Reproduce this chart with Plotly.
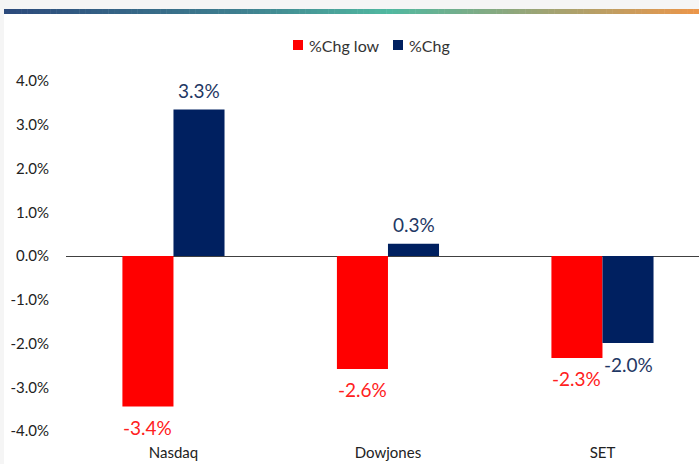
import plotly.graph_objects as go

categories = ["Nasdaq", "Dowjones", "SET"]
series_names = ["%Chg low", "%Chg"]
chg_low = [-3.44, -2.58, -2.33]
chg = [3.35, 0.28, -1.99]
low_labels = ["-3.4%", "-2.6%", "-2.3%"]
chg_labels = ["3.3%", "0.3%", "-2.0%"]
ytick_vals = [4, 3, 2, 1, 0, -1, -2, -3, -4]
ytick_text = ["4.0%", "3.0%", "2.0%", "1.0%", "0.0%", "-1.0%", "-2.0%", "-3.0%", "-4.0%"]

RED = "#ff0000"
BLUE = "#002060"
FONT = "Lato, 'Open Sans', sans-serif"

# pixel -> paper helpers (plot area: x 66..699, y 81..431)
def px(x):
    return (x - 66) / 633
def py(y):
    return (431 - y) / 350

xs = list(range(len(categories)))
fig = go.Figure()
fig.add_trace(go.Bar(x=xs, y=chg_low, name=series_names[0], marker_color=RED, marker_line_width=0, showlegend=False))
fig.add_trace(go.Bar(x=xs, y=chg, name=series_names[1], marker_color=BLUE, marker_line_width=0, showlegend=False))

off = 0.119
anns = []
for i in xs:
    for v, lab, col, dx in [(chg_low[i], low_labels[i], "#ff2020", -off), (chg[i], chg_labels[i], "#1f3864", off)]:
        anns.append(dict(x=i + dx, y=v, text=lab, showarrow=False, xref="x", yref="y",
                         yshift=19 if v >= 0 else -21, font=dict(size=19, color=col, family=FONT)))

shapes = [dict(type="rect", xref="paper", yref="paper", x0=px(-10), x1=px(710), y0=py(9), y1=py(-10),
               fillcolor="#f5f5f5", line_width=0, layer="below")]
# decorative top gradient strip
stops = [(0.0, (44, 74, 124)), (0.33, (62, 126, 143)), (0.55, (80, 184, 160)), (0.75, (150, 165, 120)), (1.0, (238, 149, 72))]
def col_at(t):
    for (t0, c0), (t1, c1) in zip(stops[:-1], stops[1:]):
        if t0 <= t <= t1:
            f = (t - t0) / (t1 - t0)
            return "rgb(%d,%d,%d)" % tuple(round(a + (b - a) * f) for a, b in zip(c0, c1))
    return "rgb(238,149,72)"
N = 120
W = 699
for k in range(N):
    xa = 4 + (W - 4) * k / N
    xb = 4 + (W - 4) * (k + 1) / N + 0.5
    shapes.append(dict(type="rect", xref="paper", yref="paper", x0=px(xa), x1=px(xb),
                       y0=py(14), y1=py(9), fillcolor=col_at(k / N), line_width=0))
shapes.append(dict(type="rect", xref="paper", yref="paper", x0=px(-5), x1=px(4),
                   y0=py(470), y1=py(0), fillcolor="#f5f5f5", line_width=0))

# custom legend
for name, col, sx in [(series_names[0], RED, 293), (series_names[1], BLUE, 393)]:
    shapes.append(dict(type="rect", xref="paper", yref="paper", x0=px(sx), x1=px(sx + 10),
                       y0=py(50), y1=py(40), fillcolor=col, line_width=0))
    anns.append(dict(x=px(sx + 14), y=py(45), xref="paper", yref="paper", text=name, showarrow=False,
                     xanchor="left", yanchor="middle", font=dict(size=16, color="#333333", family=FONT)))

fig.update_layout(
    width=699, height=464,
    margin=dict(l=66, r=0, t=81, b=33),
    paper_bgcolor="white", plot_bgcolor="white",
    barmode="group", bargap=0.524, bargroupgap=0,
    font=dict(family=FONT, size=15, color="#333333"),
    showlegend=False,
    annotations=anns,
    shapes=shapes,
    xaxis=dict(range=[-0.501, 2.450], tickvals=xs, ticktext=categories, showgrid=False,
               showline=False, zeroline=False, ticks="", ticklabelstandoff=11,
               tickfont=dict(size=15, color="#222222")),
    yaxis=dict(range=[-4, 4], tickvals=ytick_vals, ticktext=ytick_text, showgrid=False,
               zeroline=True, zerolinecolor="#404040", zerolinewidth=1, showline=False,
               ticks="", ticklabelstandoff=16, tickfont=dict(size=15, color="#222222")),
)

fig.write_html("out.html")
